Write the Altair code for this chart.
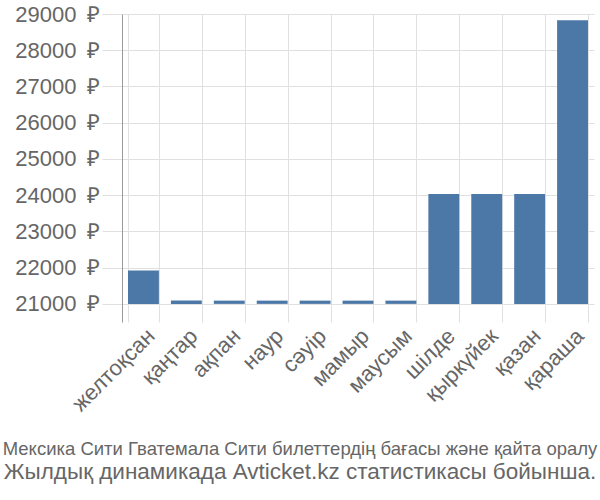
import altair as alt
import pandas as pd

months = ["желтоқсан", "қаңтар", "ақпан", "наур", "сәуір", "мамыр",
          "маусым", "шілде", "қыркүйек", "қазан", "қараша"]
prices = [21920, 21090, 21090, 21090, 21090, 21090, 21090, 24030, 24030, 24030, 28830]
y_ticks = [21000, 22000, 23000, 24000, 25000, 26000, 27000, 28000, 29000]
title_line1 = "Мексика Сити Гватемала Сити билеттердің бағасы және қайта оралу"
title_line2 = "Жылдық динамикада Avticket.kz статистикасы бойынша."

df = pd.DataFrame({"month": months, "price": prices})

chart = alt.Chart(df).mark_bar(color="#4c78a8").encode(
    x=alt.X("month:N", sort=months,
            scale=alt.Scale(paddingInner=0.28, paddingOuter=0.14),
            axis=alt.Axis(title=None, labelAngle=-45, labelFontSize=22,
                          labelColor="#666666", labelFont="Liberation Sans",
                          tickBand="extent", grid=True, gridColor="#e0e0e0",
                          domain=False, ticks=False, labelPadding=3)),
    y=alt.Y("price:Q", scale=alt.Scale(domain=[20500, 29000], nice=False, zero=False),
            axis=alt.Axis(title=None, values=y_ticks, labelExpr="datum.value + '\u2002₽'",
                          labelFontSize=22, labelColor="#666666", labelFont="Liberation Sans",
                          gridColor="#e0e0e0", tickColor="#e0e0e0", tickSize=20,
                          domainColor="#999999", labelPadding=2)),
    y2=alt.Y2(datum=21000),
).properties(
    width=472, height=308,
    autosize=alt.AutoSizeParams(type="none"),
    padding={"left": 122, "top": 14, "right": 6, "bottom": 178},
    title=alt.TitleParams(
        text=title_line1, subtitle=title_line2, orient="bottom", anchor="middle",
        font="Liberation Sans", fontSize=18.5, fontWeight="normal", color="#666666",
        subtitleFont="Liberation Sans", subtitleFontSize=22.5, subtitleColor="#666666",
        subtitlePadding=3, offset=25, dx=-58,
    ),
).configure_view(stroke=None)

chart.save("out.html", embed_options={"renderer": "svg", "actions": False})
